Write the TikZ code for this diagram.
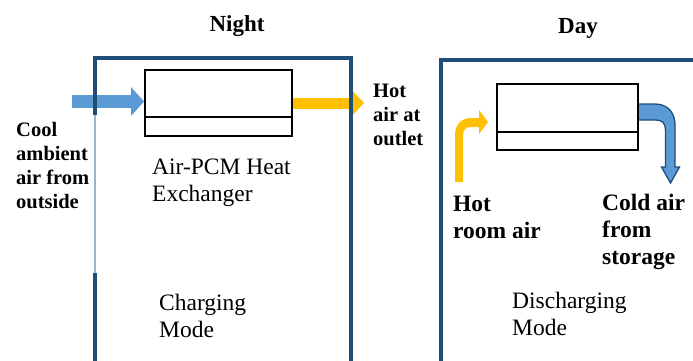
\documentclass[tikz,border=0pt]{standalone}
\usepackage{fontspec}
\setmainfont{Liberation Serif}
\usetikzlibrary{arrows.meta}
\usetikzlibrary{backgrounds}
\definecolor{frameblue}{RGB}{31,78,121}
\definecolor{paleframe}{RGB}{160,180,205}
\definecolor{airblue}{RGB}{91,155,213}
\definecolor{airgold}{RGB}{255,192,0}

\begin{document}
\begin{tikzpicture}[x=1pt, y=-1pt,
  frame/.style={draw=frameblue, line width=3.2pt},
  hx/.style={draw=black, line width=1.8pt, minimum width=#1, minimum height=66pt, inner sep=0pt},
  plain/.style={font=\fontsize{23.5}{27}\selectfont, align=left, inner sep=0pt, anchor=base west},
  boldl/.style={font=\fontsize{20.5}{24}\selectfont\bfseries, align=left, inner sep=0pt, anchor=base west},
  boldr/.style={font=\fontsize{23.5}{27}\selectfont\bfseries, align=left, inner sep=0pt, anchor=base west},
  title/.style={font=\fontsize{23}{27}\selectfont\bfseries, inner sep=0pt, anchor=base}]
\useasboundingbox (0,0) rectangle (693,361);
\clip (0,0) rectangle (693,361);

\node[hx=147pt] (hx1) at (218.5,103) {};
\node[hx=141pt] (hx2) at (567.5,117) {};
\draw[line width=1.8pt] ([yshift=20pt]hx1.south west) -- ([yshift=20pt]hx1.south east);
\draw[line width=1.8pt] ([yshift=19pt]hx2.south west) -- ([yshift=19pt]hx2.south east);

\coordinate (c1) at (72,101.5);
\coordinate (c2) at (364,103);
\begin{scope}[on background layer]
 \draw[airblue, line width=13pt, -{Triangle[length=13pt,width=28pt]}] (c1) -- (c1 -| hx1.west);
 \draw[airgold, line width=11pt, -{Triangle[length=11pt,width=23pt]}] (hx1.east |- c2) -- (c2);
 \fill[airgold] (455,182) -- (455,136) .. controls (455,124) and (461,118) .. (472,118) -- (479,118) -- (479,110) -- (488,122) -- (479,134) -- (479,127) -- (470,127) .. controls (466,127) and (463,130) .. (463,135) -- (463,182) -- cycle;
 \filldraw[fill=airblue, draw=frameblue, line width=1.3pt] (638,104) -- (655,104) .. controls (667,104) and (675,112) .. (675,125) -- (675,167) -- (679.5,167) -- (670.5,183) -- (661.5,167) -- (665.5,167) -- (665.5,130) .. controls (665.5,123) and (662,120) .. (656,120) -- (638,120) -- cycle;
\end{scope}

\draw[frame] (95,115) -- (95,58) -- (351,58) -- (351,380) -- (95,380) -- (95,273);
\draw[paleframe, line width=1.6pt] (95,115) -- (95,273);
\draw[frame] (441,380) -- (441,60) -- (710,60);

\node[title] (t1) at (237,32) {Night};
\node[title] (t2) at (578,34) {Day};
\node[boldl] (l1) at (16,208) {Cool\\ambient\\air from\\outside};
\node[boldl] (l2) at (373,145) {Hot\\air at\\outlet};
\node[plain] (l3) at (152,201) {Air-PCM Heat\\Exchanger};
\node[plain] (l4) at (159,337) {Charging\\Mode};
\node[boldr] (l5) at (453,238) {Hot\\room air};
\node[boldr] (l6) at (602,264) {Cold air\\from\\storage};
\node[plain] (l7) at (512,335) {Discharging\\Mode};
\end{tikzpicture}
\end{document}
